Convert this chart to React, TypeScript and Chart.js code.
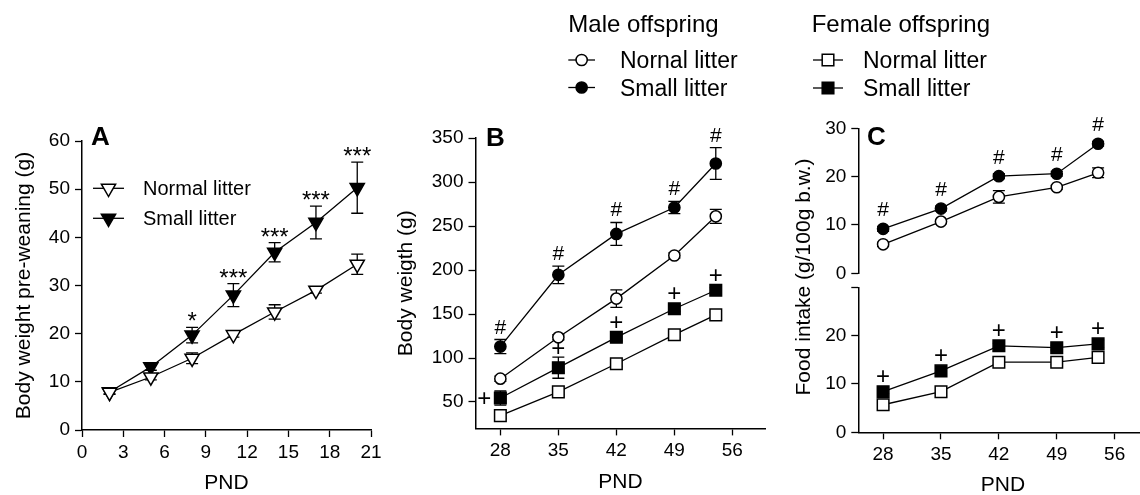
import React, { useEffect, useRef } from 'react';
import { Chart, registerables } from 'chart.js';

Chart.register(...registerables);

const FAMILY = '"Liberation Sans", Arial, Helvetica, sans-serif';

// ---------- Panel A: body weight pre-weaning ----------
const pndA = [2, 5, 8, 11, 14, 17, 20];
const normalA = [7.8, 11.0, 14.9, 19.8, 24.5, 29.0, 34.4];
const normalAErr = [0.4, 0.6, 1.1, 0.5, 1.5, 0.6, 2.1];
const smallA = [7.9, 13.1, 19.7, 28.0, 36.9, 43.1, 50.3];
const smallAErr = [0.4, 0.7, 1.6, 2.4, 2.0, 3.4, 5.3];
const sigA = ['', '', '*', '***', '***', '***', '***'];
const xTicksA = [0, 3, 6, 9, 12, 15, 18, 21];
const yTicksA = [0, 10, 20, 30, 40, 50, 60];

// ---------- Panel B: body weight ----------
const pndBC = [28, 35, 42, 49, 54];
const maleNormalB = [76.5, 123.5, 167.5, 216.5, 261];
const maleNormalBErr = [3, 3, 10, 3, 8];
const maleSmallB = [113, 194.5, 241, 271, 321];
const maleSmallBErr = [8, 10, 13, 7, 18];
const femaleNormalB = [34.5, 61.5, 93.5, 126.5, 149];
const femaleNormalBErr = [3, 3, 3, 3, 3];
const femaleSmallB = [54.5, 89, 123.5, 156, 177];
const femaleSmallBErr = [8, 12, 4, 3, 3];
const hashB = ['#', '#', '#', '#', '#'];
const plusB = ['+', '+', '+', '+', '+'];
const plusBSide = ['left', 'top', 'top', 'top', 'top'];
const xTicksBC = [28, 35, 42, 49, 56];
const yTicksB = [50, 100, 150, 200, 250, 300, 350];

// ---------- Panel C: food intake ----------
const maleNormalC = [6.0, 10.7, 15.8, 17.8, 20.8];
const maleNormalCErr = [0.4, 0.4, 1.3, 0.4, 1.0];
const maleSmallC = [9.2, 13.4, 20.1, 20.6, 26.8];
const maleSmallCErr = [0.5, 0.5, 0.5, 0.5, 0.5];
const femaleNormalC = [5.7, 8.4, 14.5, 14.5, 15.5];
const femaleNormalCErr = [0.4, 0.4, 0.5, 0.5, 0.8];
const femaleSmallC = [8.4, 12.7, 17.9, 17.5, 18.3];
const femaleSmallCErr = [0.4, 0.5, 0.5, 0.5, 0.8];
const hashC = ['#', '#', '#', '#', '#'];
const plusC = ['+', '+', '+', '+', '+'];
const yTicksCTop = [0, 10, 20, 30];
const yLabelsCTop = ['0', '10', '20', '30'];
const yTicksCBot = [0, 10, 20, 30];
const yLabelsCBot = ['0', '10', '20', ''];

const CW = 1160;
const CH = 500;

type Geo = {
  left: number; right: number; top: number; bottom: number;
  yWidth: number; xHeight: number; yTitleX: number; hasX: boolean;
};

const R_CIRCLE = 5.6;
const R_RECT = 8.2;
const R_TRI = 8.2;

function drawMarker(ctx: CanvasRenderingContext2D, style: string, x: number, y: number, filled: boolean) {
  ctx.save();
  ctx.beginPath();
  if (style === 'circle') {
    ctx.arc(x, y, R_CIRCLE, 0, Math.PI * 2);
  } else if (style === 'rect') {
    const s = R_RECT * Math.SQRT1_2;
    ctx.rect(x - s, y - s, 2 * s, 2 * s);
  } else {
    const r = R_TRI;
    ctx.moveTo(x, y + r);
    ctx.lineTo(x - 0.866 * r, y - 0.5 * r);
    ctx.lineTo(x + 0.866 * r, y - 0.5 * r);
    ctx.closePath();
  }
  ctx.fillStyle = filled ? '#000' : '#fff';
  ctx.fill();
  ctx.lineWidth = 1.5;
  ctx.strokeStyle = '#000';
  ctx.stroke();
  ctx.restore();
}

function text(ctx: CanvasRenderingContext2D, s: string, x: number, y: number, size: number,
  align: CanvasTextAlign = 'left', bold = false) {
  ctx.save();
  ctx.font = `${bold ? 'bold ' : ''}${size}px ${FAMILY}`;
  ctx.fillStyle = '#000';
  ctx.textAlign = align;
  ctx.textBaseline = 'alphabetic';
  ctx.fillText(s, x, y);
  ctx.restore();
}

function legendRow(ctx: CanvasRenderingContext2D, x1: number, x2: number, y: number, style: string,
  filled: boolean, label: string, tx: number, size: number) {
  ctx.save();
  ctx.beginPath();
  ctx.moveTo(x1, y);
  ctx.lineTo(x2, y);
  ctx.lineWidth = 1.3;
  ctx.strokeStyle = '#000';
  ctx.stroke();
  ctx.restore();
  drawMarker(ctx, style, (x1 + x2) / 2, y, filled);
  text(ctx, label, tx, y + 0.358 * size, size);
}

function markerTop(style: string) {
  if (style === 'circle') return R_CIRCLE + 0.75;
  if (style === 'rect') return R_RECT * Math.SQRT1_2 + 0.75;
  return R_TRI * 0.5 + 0.75;
}

function makeDataset(xs: number[], ys: number[], errs: number[], style: string, filled: boolean, yAxisID: string,
  marks?: string[], sides?: string[]) {
  return {
    data: xs.map((x, i) => ({ x, y: ys[i] })),
    errors: errs,
    marks: marks || [],
    markSides: sides || [],
    markerStyle: style,
    yAxisID,
    xAxisID: 'x',
    borderColor: '#000',
    borderWidth: 1.3,
    pointStyle: style === 'triangleDown' ? 'triangle' : style,
    pointRotation: style === 'triangleDown' ? 180 : 0,
    pointRadius: style === 'circle' ? R_CIRCLE : style === 'rect' ? R_RECT : R_TRI,
    pointBackgroundColor: filled ? '#000' : '#fff',
    pointBorderColor: '#000',
    pointBorderWidth: 1.5,
    fill: false,
    tension: 0,
    clip: false,
  };
}

const errorAndMarksPlugin = {
  id: 'errorAndMarks',
  beforeDatasetsDraw(chart: any) {
    const ctx = chart.ctx as CanvasRenderingContext2D;
    chart.data.datasets.forEach((ds: any, i: number) => {
      const meta = chart.getDatasetMeta(i);
      const ys = chart.scales[meta.yAxisID];
      ctx.save();
      ctx.strokeStyle = '#000';
      ctx.lineWidth = 1.3;
      meta.data.forEach((el: any, j: number) => {
        const v = ds.data[j].y;
        const e = ds.errors ? ds.errors[j] : 0;
        if (!e) return;
        const yt = ys.getPixelForValue(v + e);
        const yb = ys.getPixelForValue(v - e);
        const x = el.x;
        ctx.beginPath();
        ctx.moveTo(x, yt); ctx.lineTo(x, yb);
        ctx.moveTo(x - 6, yt); ctx.lineTo(x + 6, yt);
        ctx.moveTo(x - 6, yb); ctx.lineTo(x + 6, yb);
        ctx.stroke();
      });
      ctx.restore();
    });
  },
  afterDatasetsDraw(chart: any) {
    const ctx = chart.ctx as CanvasRenderingContext2D;
    chart.data.datasets.forEach((ds: any, i: number) => {
      const meta = chart.getDatasetMeta(i);
      const ys = chart.scales[meta.yAxisID];
      (ds.marks || []).forEach((m: string, j: number) => {
        if (!m) return;
        const el = meta.data[j];
        const v = ds.data[j].y;
        const e = ds.errors ? ds.errors[j] : 0;
        const top = Math.min(ys.getPixelForValue(v + e), el.y - markerTop(ds.markerStyle));
        const side = ds.markSides[j] || 'top';
        if (m[0] === '*') {
          text(ctx, m, el.x, top + 2, 24, 'center');
        } else if (m === '#') {
          text(ctx, m, el.x, top - 6, 21, 'center');
        } else if (side === 'left') {
          text(ctx, m, el.x - 9, el.y + 0.35 * 24, 24, 'right');
        } else {
          text(ctx, m, el.x, top - 1, 24, 'center');
        }
      });
    });
  },
};

function buildConfig(g: Geo, xMin: number, xMax: number, xTicks: number[], yMin: number, yMax: number,
  yTicks: number[], yLabels: string[] | null, yTitle: string, datasets: any[], extraDraw: (ctx: CanvasRenderingContext2D, chart: any) => void) {
  const lh = 21 * 1.2;
  const axisCommon = {
    grid: { display: true, drawOnChartArea: false, drawTicks: true, tickLength: 7, tickWidth: 1.3, tickColor: '#000', color: '#000' },
    border: { display: true, color: '#000', width: 1.5 },
  };
  return {
    type: 'line',
    data: { datasets },
    options: {
      responsive: false,
      animation: false,
      devicePixelRatio: 1,
      events: [],
      layout: {
        padding: {
          left: g.left - g.yWidth,
          top: g.top,
          right: CW - g.right,
          bottom: g.hasX ? CH - g.bottom - g.xHeight : CH - g.bottom,
        },
      },
      plugins: { legend: { display: false }, tooltip: { enabled: false }, title: { display: false } },
      scales: {
        x: {
          type: 'linear',
          display: g.hasX,
          min: xMin,
          max: xMax,
          afterBuildTicks: (s: any) => { s.ticks = xTicks.map((v) => ({ value: v })); },
          afterFit: (s: any) => { s.height = g.hasX ? g.xHeight : 0; },
          ...axisCommon,
          ticks: { color: '#000', font: { size: 19, family: FAMILY }, padding: 4, maxRotation: 0, autoSkip: false },
          title: { display: true, text: 'PND', color: '#000', font: { size: 21, family: FAMILY }, padding: { top: 0, bottom: 0 } },
        },
        y: {
          type: 'linear',
          min: yMin,
          max: yMax,
          afterBuildTicks: (s: any) => { s.ticks = yTicks.map((v) => ({ value: v })); },
          afterFit: (s: any) => { s.width = g.yWidth; },
          ...axisCommon,
          ticks: {
            color: '#000', font: { size: 19, family: FAMILY }, padding: 5, autoSkip: false,
            callback: (v: any, idx: number) => (yLabels ? yLabels[idx] : String(v)),
          },
          title: {
            display: !!yTitle, text: yTitle, color: '#000', font: { size: 21, family: FAMILY },
            padding: { top: g.yTitleX - (g.left - g.yWidth) - lh / 2, bottom: 0 },
          },
        },
      },
    },
    plugins: [errorAndMarksPlugin, { id: 'extra', afterDraw: (chart: any) => extraDraw(chart.ctx, chart) }],
  };
}

const geoA: Geo = { left: 82, right: 371, top: 141, bottom: 430, yWidth: 82, xHeight: 66, yTitleX: 24, hasX: true };
const geoB: Geo = { left: 475.5, right: 765.5, top: 138, bottom: 428.4, yWidth: 95, xHeight: 66, yTitleX: 406.5, hasX: true };
const geoCT: Geo = { left: 858.3, right: 1147.7, top: 128.3, bottom: 273.3, yWidth: 95, xHeight: 0, yTitleX: 804, hasX: false };
const geoCB: Geo = { left: 858.3, right: 1147.7, top: 287.3, bottom: 432.3, yWidth: 95, xHeight: 66, yTitleX: 804, hasX: true };

function useChart(ref: React.RefObject<HTMLCanvasElement | null>, make: () => any) {
  useEffect(() => {
    if (!ref.current) return;
    const chart = new Chart(ref.current, make());
    return () => chart.destroy();
  }, []);
}

export default function App() {
  const refA = useRef<HTMLCanvasElement | null>(null);
  const refB = useRef<HTMLCanvasElement | null>(null);
  const refCT = useRef<HTMLCanvasElement | null>(null);
  const refCB = useRef<HTMLCanvasElement | null>(null);

  useChart(refA, () => buildConfig(geoA, 0, 21, xTicksA, 0, 60, yTicksA, null, 'Body weight pre-weaning (g)', [
    makeDataset(pndA, normalA, normalAErr, 'triangleDown', false, 'y'),
    makeDataset(pndA, smallA, smallAErr, 'triangleDown', true, 'y', sigA),
  ], (ctx) => {
    text(ctx, 'A', 91, 145, 26, 'left', true);
    legendRow(ctx, 93, 124, 188.3, 'triangleDown', false, 'Normal litter', 143, 20);
    legendRow(ctx, 93, 124, 218.3, 'triangleDown', true, 'Small litter', 143, 20);
  }));

  useChart(refB, () => buildConfig(geoB, 25, 60, xTicksBC, 20, 350, yTicksB, null, 'Body weigth (g)', [
    makeDataset(pndBC, femaleNormalB, femaleNormalBErr, 'rect', false, 'y'),
    makeDataset(pndBC, femaleSmallB, femaleSmallBErr, 'rect', true, 'y', plusB, plusBSide),
    makeDataset(pndBC, maleNormalB, maleNormalBErr, 'circle', false, 'y'),
    makeDataset(pndBC, maleSmallB, maleSmallBErr, 'circle', true, 'y', hashB),
  ], (ctx) => {
    text(ctx, 'B', 486, 145.5, 26, 'left', true);
    text(ctx, 'Male offspring', 568.3, 31.7, 24);
    legendRow(ctx, 568.3, 595, 60, 'circle', false, 'Nornal litter', 620, 23);
    legendRow(ctx, 568.3, 595, 87.5, 'circle', true, 'Small litter', 620, 23);
  }));

  useChart(refCT, () => buildConfig(geoCT, 25, 60, xTicksBC, 0, 30, yTicksCTop, yLabelsCTop, '', [
    makeDataset(pndBC, maleNormalC, maleNormalCErr, 'circle', false, 'y'),
    makeDataset(pndBC, maleSmallC, maleSmallCErr, 'circle', true, 'y', hashC),
  ], (ctx) => {
    text(ctx, 'C', 867, 144.5, 26, 'left', true);
    text(ctx, 'Female offspring', 811.7, 31.7, 24);
    legendRow(ctx, 813, 843, 60, 'rect', false, 'Normal litter', 863, 23);
    legendRow(ctx, 813, 843, 88, 'rect', true, 'Small litter', 863, 23);
  }));

  useChart(refCB, () => buildConfig(geoCB, 25, 60, xTicksBC, 0, 30, yTicksCBot, yLabelsCBot, '', [
    makeDataset(pndBC, femaleNormalC, femaleNormalCErr, 'rect', false, 'y'),
    makeDataset(pndBC, femaleSmallC, femaleSmallCErr, 'rect', true, 'y', plusC),
  ], (ctx) => {
    ctx.save();
    ctx.translate(804, 277);
    ctx.rotate(-Math.PI / 2);
    ctx.font = `21px ${FAMILY}`;
    ctx.fillStyle = '#000';
    ctx.textAlign = 'center';
    ctx.textBaseline = 'middle';
    ctx.fillText('Food intake (g/100g b.w.)', 0, 0);
    ctx.restore();
  }));

  const cs: React.CSSProperties = { position: 'absolute', left: 0, top: 0, width: CW, height: CH };
  return (
    <div style={{ position: 'absolute', left: 0, top: 0, width: 1140, height: 495, overflow: 'hidden', background: '#fff' }}>
      <canvas ref={refA} width={CW} height={CH} style={cs} />
      <canvas ref={refB} width={CW} height={CH} style={cs} />
      <canvas ref={refCT} width={CW} height={CH} style={cs} />
      <canvas ref={refCB} width={CW} height={CH} style={cs} />
    </div>
  );
}
